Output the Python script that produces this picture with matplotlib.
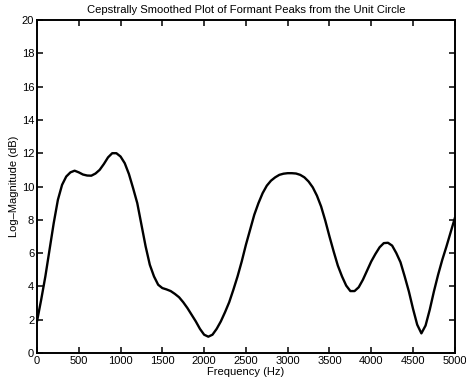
import numpy as np
import matplotlib
matplotlib.use("Agg")
import matplotlib.pyplot as plt

# Cepstrally smoothed log-magnitude spectrum, sampled every 50 Hz
freq_hz = np.arange(0, 5001, 50)
log_mag_db = [
    1.9, 3.2, 4.6, 6.2, 7.8, 9.2, 10.1, 10.6, 10.85, 10.95,
    10.85, 10.72, 10.66, 10.65, 10.78, 11.0, 11.35, 11.75, 12.0, 12.0,
    11.8, 11.4, 10.75, 9.9, 9.0, 7.7, 6.4, 5.3, 4.6, 4.1,
    3.9, 3.82, 3.72, 3.55, 3.35, 3.05, 2.7, 2.3, 1.9, 1.45,
    1.1, 0.98, 1.1, 1.45, 1.9, 2.45, 3.05, 3.8, 4.6, 5.5,
    6.5, 7.4, 8.3, 9.0, 9.6, 10.05, 10.35, 10.55, 10.7, 10.77,
    10.8, 10.8, 10.78, 10.7, 10.55, 10.3, 9.95, 9.45, 8.8, 7.95,
    7.0, 6.1, 5.25, 4.6, 4.05, 3.72, 3.72, 3.95, 4.4, 4.95,
    5.5, 5.95, 6.35, 6.6, 6.62, 6.45, 6.0, 5.45, 4.6, 3.7,
    2.65, 1.7, 1.18, 1.65, 2.6, 3.7, 4.7, 5.6, 6.4, 7.25,
    8.1,
]

x_ticks = [0, 500, 1000, 1500, 2000, 2500, 3000, 3500, 4000, 4500, 5000]
y_ticks = [0, 2, 4, 6, 8, 10, 12, 14, 16, 18, 20]

plt.rcParams["font.family"] = ["Liberation Sans", "DejaVu Sans"]

fig = plt.figure(figsize=(4.66, 3.88), dpi=100)
ax = fig.add_axes([0.0794, 0.0902, 0.8966, 0.8582])

ax.plot(freq_hz, log_mag_db, color="black", linewidth=1.7)

ax.set_xlim(0, 5000)
ax.set_ylim(0, 20)
ax.set_xticks(x_ticks)
ax.set_yticks(y_ticks)
ax.tick_params(direction="in", length=4, width=1.1, top=True, right=True,
               labelsize=8, pad=2, colors="black")
for spine in ax.spines.values():
    spine.set_linewidth(1.4)

ax.set_title("Cepstrally Smoothed Plot of Formant Peaks from the Unit Circle",
             fontsize=8.1, pad=5)
ax.set_xlabel("Frequency (Hz)", fontsize=8, labelpad=1)
ax.set_ylabel("Log\u2013Magnitude (dB)", fontsize=8, labelpad=2)

fig.savefig("out.png", dpi=100)
